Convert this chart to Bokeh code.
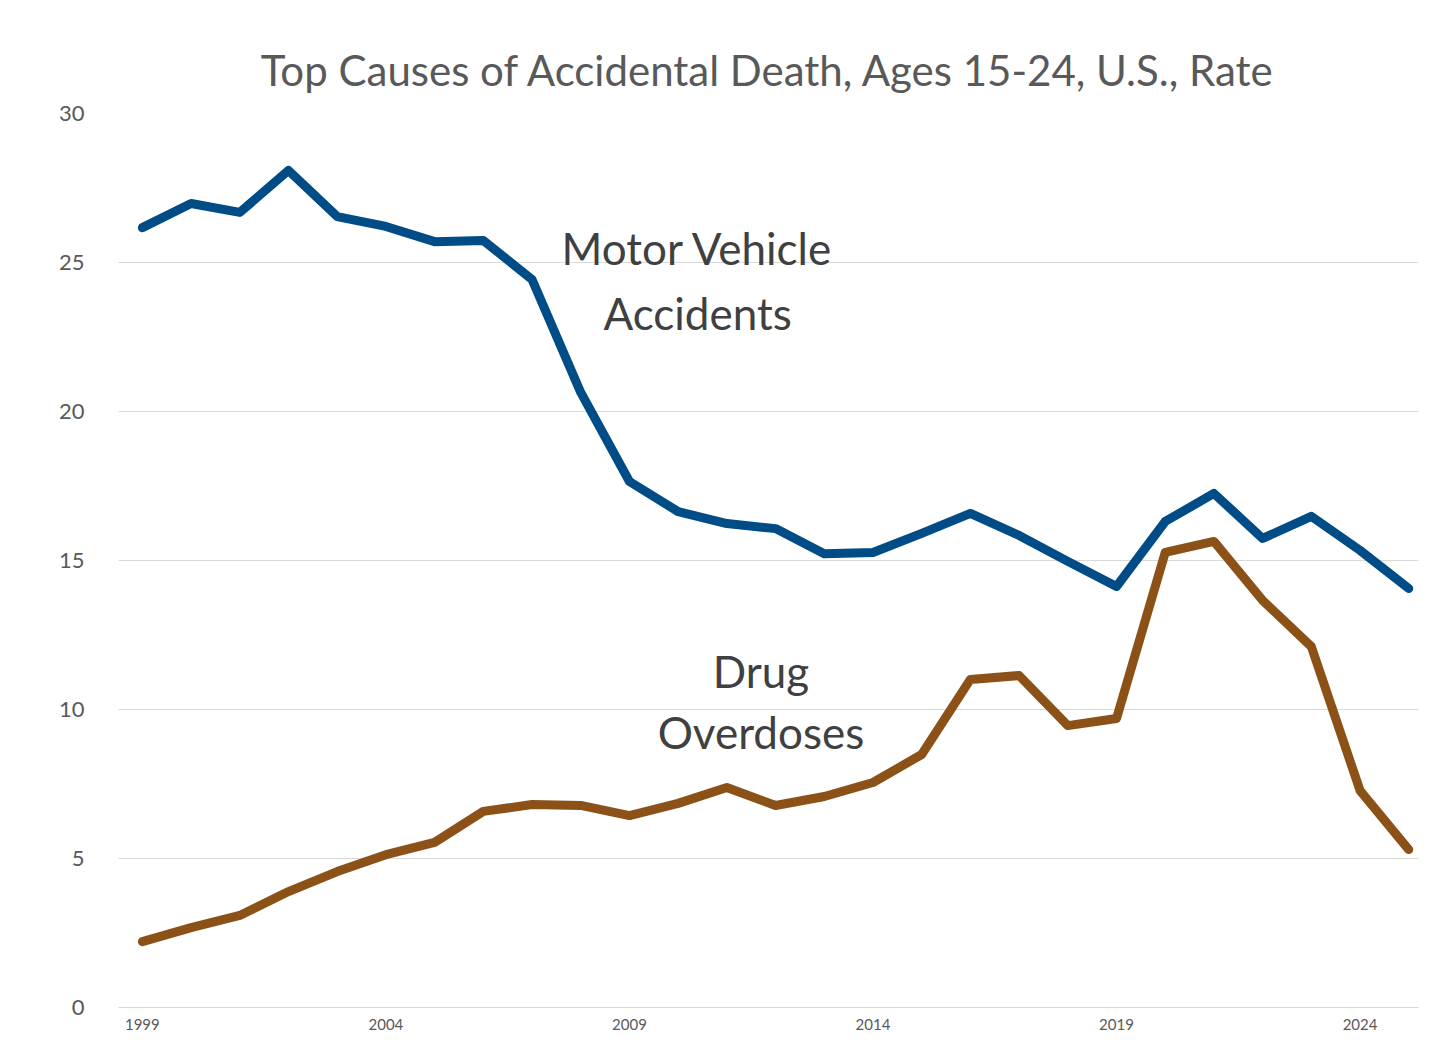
import math
from bokeh.plotting import figure
from bokeh.models import FixedTicker, Label, Range1d
from bokeh.embed import file_html
from bokeh.resources import INLINE

years = list(range(1999, 2026))
motor = [26.17, 26.98, 26.68, 28.09, 26.54, 26.21, 25.70, 25.74, 24.43, 20.64, 17.65, 16.64, 16.24, 16.07,
         15.23, 15.27, 15.91, 16.58, 15.84, 14.97, 14.13, 16.31, 17.25, 15.74, 16.48, 15.34, 14.06]
drug = [2.21, 2.68, 3.09, 3.89, 4.56, 5.13, 5.54, 6.58, 6.81, 6.78, 6.44, 6.85, 7.38, 6.78,
        7.08, 7.55, 8.49, 11.01, 11.14, 9.46, 9.70, 15.27, 15.64, 13.66, 12.11, 7.28, 5.30]
x_ticks = [1999, 2004, 2009, 2014, 2019, 2024]
y_ticks = [0, 5, 10, 15, 20, 25, 30]

FONT = "Lato"
p = figure(width=1440, height=1040, output_backend="svg", toolbar_location=None,
           x_range=Range1d(1998.51, 2025.2), y_range=Range1d(0, 30),
           min_border_left=118, min_border_right=22, min_border_top=113, min_border_bottom=33)
p.title.text = "Top Causes of Accidental Death, Ages 15-24, U.S., Rate"
p.title.align = "center"
p.title.text_font = FONT
p.title.text_font_size = "42px"
p.title.text_font_style = "normal"
p.title.text_color = "#595959"
p.title.standoff = 38
p.outline_line_color = None
p.xgrid.grid_line_color = None
p.ygrid.grid_line_color = "#d9d9d9"
p.ygrid.grid_line_width = 1.2

p.xaxis.ticker = FixedTicker(ticks=x_ticks)
p.yaxis.ticker = FixedTicker(ticks=y_ticks)
p.yaxis.axis_line_color = None
p.yaxis.major_tick_line_color = None
p.yaxis.minor_tick_line_color = None
p.yaxis.major_label_text_font_size = "22px"
p.yaxis.major_label_text_color = "#595959"
p.yaxis.major_label_text_font = FONT
p.yaxis.major_label_standoff = 28
p.xaxis.axis_line_color = "#d9d9d9"
p.xaxis.major_tick_line_color = None
p.xaxis.minor_tick_line_color = None
p.xaxis.major_label_text_font_size = "15px"
p.xaxis.major_label_text_color = "#595959"
p.xaxis.major_label_text_font = FONT

p.add_layout(Label(x=1998.51, y=24.0, x_offset=-88, angle=math.pi / 2, text="Rate per 100,000",
                   text_align="center", text_baseline="middle", text_font=FONT,
                   text_font_size="24px", text_color="#595959"))

p.line(years, motor, line_color="#004c86", line_width=9, line_join="round", line_cap="round")
p.line(years, drug, line_color="#8b5117", line_width=9, line_join="round", line_cap="round")

for txt, x, y in [("Motor Vehicle", 2010.4, 25.47), ("Accidents", 2010.4, 23.3),
                  ("Drug", 2011.7, 11.3), ("Overdoses", 2011.7, 9.23)]:
    p.add_layout(Label(x=x, y=y, text=txt, text_align="center", text_baseline="middle",
                       text_font=FONT, text_font_size="44px", text_color="#404040"))

open("out.html", "w").write(file_html(p, INLINE))
